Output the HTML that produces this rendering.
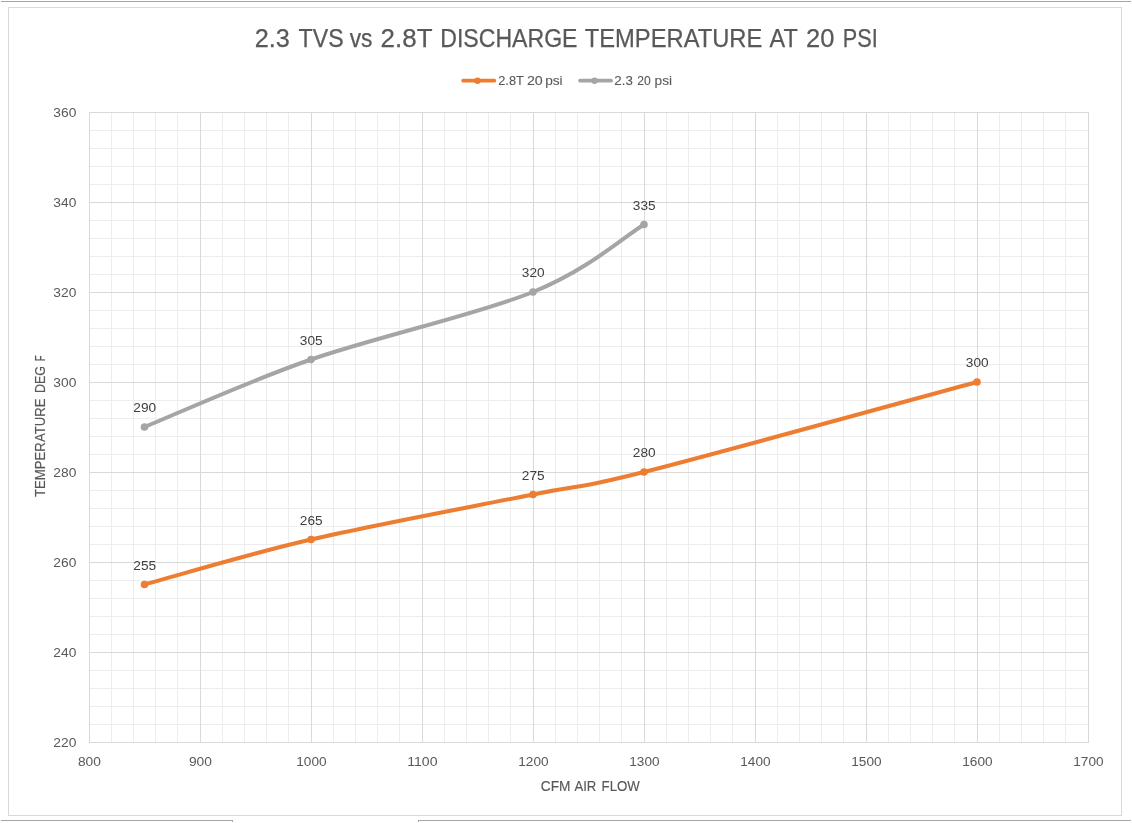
<!DOCTYPE html>
<html><head><meta charset="utf-8">
<style>
html,body{margin:0;padding:0;background:#fff;}
body{width:1132px;height:823px;overflow:hidden;position:relative;}
svg{position:absolute;left:0;top:0;will-change:transform;}
text{font-family:"Liberation Sans",sans-serif;}
.mn{stroke:#ededed;stroke-width:1;}
.mj{stroke:#d9d9d9;stroke-width:1;}
.tk{font-size:12.5px;fill:#595959;}
.dl{font-size:12.5px;fill:#404040;}
</style></head><body>
<svg width="1132" height="823" viewBox="0 0 1132 823">
<rect x="0" y="0" width="1132" height="823" fill="#fff"/>
<line x1="1" y1="1.5" x2="1131" y2="1.5" stroke="#a6a6a6" stroke-width="1"/>
<rect x="8.5" y="7.5" width="1113" height="808" fill="none" stroke="#d9d9d9" stroke-width="1"/>
<line x1="1" y1="820.5" x2="233" y2="820.5" stroke="#a6a6a6" stroke-width="1"/>
<line x1="418" y1="820.5" x2="1131" y2="820.5" stroke="#a6a6a6" stroke-width="1"/>
<rect x="232" y="820" width="1" height="2" fill="#a6a6a6"/>
<rect x="418" y="820" width="1" height="2" fill="#a6a6a6"/>
<line x1="89.0" y1="724.5" x2="1088.0" y2="724.5" class="mn"/><line x1="89.0" y1="706.5" x2="1088.0" y2="706.5" class="mn"/><line x1="89.0" y1="688.5" x2="1088.0" y2="688.5" class="mn"/><line x1="89.0" y1="670.5" x2="1088.0" y2="670.5" class="mn"/><line x1="89.0" y1="634.5" x2="1088.0" y2="634.5" class="mn"/><line x1="89.0" y1="616.5" x2="1088.0" y2="616.5" class="mn"/><line x1="89.0" y1="598.5" x2="1088.0" y2="598.5" class="mn"/><line x1="89.0" y1="580.5" x2="1088.0" y2="580.5" class="mn"/><line x1="89.0" y1="544.5" x2="1088.0" y2="544.5" class="mn"/><line x1="89.0" y1="526.5" x2="1088.0" y2="526.5" class="mn"/><line x1="89.0" y1="508.5" x2="1088.0" y2="508.5" class="mn"/><line x1="89.0" y1="490.5" x2="1088.0" y2="490.5" class="mn"/><line x1="89.0" y1="454.5" x2="1088.0" y2="454.5" class="mn"/><line x1="89.0" y1="436.5" x2="1088.0" y2="436.5" class="mn"/><line x1="89.0" y1="418.5" x2="1088.0" y2="418.5" class="mn"/><line x1="89.0" y1="400.5" x2="1088.0" y2="400.5" class="mn"/><line x1="89.0" y1="364.5" x2="1088.0" y2="364.5" class="mn"/><line x1="89.0" y1="346.5" x2="1088.0" y2="346.5" class="mn"/><line x1="89.0" y1="328.5" x2="1088.0" y2="328.5" class="mn"/><line x1="89.0" y1="310.5" x2="1088.0" y2="310.5" class="mn"/><line x1="89.0" y1="274.5" x2="1088.0" y2="274.5" class="mn"/><line x1="89.0" y1="256.5" x2="1088.0" y2="256.5" class="mn"/><line x1="89.0" y1="238.5" x2="1088.0" y2="238.5" class="mn"/><line x1="89.0" y1="220.5" x2="1088.0" y2="220.5" class="mn"/><line x1="89.0" y1="184.5" x2="1088.0" y2="184.5" class="mn"/><line x1="89.0" y1="166.5" x2="1088.0" y2="166.5" class="mn"/><line x1="89.0" y1="148.5" x2="1088.0" y2="148.5" class="mn"/><line x1="89.0" y1="130.5" x2="1088.0" y2="130.5" class="mn"/><line x1="111.5" y1="112.0" x2="111.5" y2="742.0" class="mn"/><line x1="133.5" y1="112.0" x2="133.5" y2="742.0" class="mn"/><line x1="155.5" y1="112.0" x2="155.5" y2="742.0" class="mn"/><line x1="177.5" y1="112.0" x2="177.5" y2="742.0" class="mn"/><line x1="222.5" y1="112.0" x2="222.5" y2="742.0" class="mn"/><line x1="244.5" y1="112.0" x2="244.5" y2="742.0" class="mn"/><line x1="266.5" y1="112.0" x2="266.5" y2="742.0" class="mn"/><line x1="288.5" y1="112.0" x2="288.5" y2="742.0" class="mn"/><line x1="333.5" y1="112.0" x2="333.5" y2="742.0" class="mn"/><line x1="355.5" y1="112.0" x2="355.5" y2="742.0" class="mn"/><line x1="377.5" y1="112.0" x2="377.5" y2="742.0" class="mn"/><line x1="399.5" y1="112.0" x2="399.5" y2="742.0" class="mn"/><line x1="444.5" y1="112.0" x2="444.5" y2="742.0" class="mn"/><line x1="466.5" y1="112.0" x2="466.5" y2="742.0" class="mn"/><line x1="488.5" y1="112.0" x2="488.5" y2="742.0" class="mn"/><line x1="510.5" y1="112.0" x2="510.5" y2="742.0" class="mn"/><line x1="555.5" y1="112.0" x2="555.5" y2="742.0" class="mn"/><line x1="577.5" y1="112.0" x2="577.5" y2="742.0" class="mn"/><line x1="599.5" y1="112.0" x2="599.5" y2="742.0" class="mn"/><line x1="621.5" y1="112.0" x2="621.5" y2="742.0" class="mn"/><line x1="666.5" y1="112.0" x2="666.5" y2="742.0" class="mn"/><line x1="688.5" y1="112.0" x2="688.5" y2="742.0" class="mn"/><line x1="710.5" y1="112.0" x2="710.5" y2="742.0" class="mn"/><line x1="732.5" y1="112.0" x2="732.5" y2="742.0" class="mn"/><line x1="777.5" y1="112.0" x2="777.5" y2="742.0" class="mn"/><line x1="799.5" y1="112.0" x2="799.5" y2="742.0" class="mn"/><line x1="821.5" y1="112.0" x2="821.5" y2="742.0" class="mn"/><line x1="843.5" y1="112.0" x2="843.5" y2="742.0" class="mn"/><line x1="888.5" y1="112.0" x2="888.5" y2="742.0" class="mn"/><line x1="910.5" y1="112.0" x2="910.5" y2="742.0" class="mn"/><line x1="932.5" y1="112.0" x2="932.5" y2="742.0" class="mn"/><line x1="954.5" y1="112.0" x2="954.5" y2="742.0" class="mn"/><line x1="999.5" y1="112.0" x2="999.5" y2="742.0" class="mn"/><line x1="1021.5" y1="112.0" x2="1021.5" y2="742.0" class="mn"/><line x1="1043.5" y1="112.0" x2="1043.5" y2="742.0" class="mn"/><line x1="1065.5" y1="112.0" x2="1065.5" y2="742.0" class="mn"/><line x1="89.0" y1="742.5" x2="1089.0" y2="742.5" class="mj"/><line x1="89.0" y1="652.5" x2="1089.0" y2="652.5" class="mj"/><line x1="89.0" y1="562.5" x2="1089.0" y2="562.5" class="mj"/><line x1="89.0" y1="472.5" x2="1089.0" y2="472.5" class="mj"/><line x1="89.0" y1="382.5" x2="1089.0" y2="382.5" class="mj"/><line x1="89.0" y1="292.5" x2="1089.0" y2="292.5" class="mj"/><line x1="89.0" y1="202.5" x2="1089.0" y2="202.5" class="mj"/><line x1="89.0" y1="112.5" x2="1089.0" y2="112.5" class="mj"/><line x1="89.5" y1="112.0" x2="89.5" y2="743.0" class="mj"/><line x1="200.5" y1="112.0" x2="200.5" y2="743.0" class="mj"/><line x1="311.5" y1="112.0" x2="311.5" y2="743.0" class="mj"/><line x1="422.5" y1="112.0" x2="422.5" y2="743.0" class="mj"/><line x1="533.5" y1="112.0" x2="533.5" y2="743.0" class="mj"/><line x1="644.5" y1="112.0" x2="644.5" y2="743.0" class="mj"/><line x1="755.5" y1="112.0" x2="755.5" y2="743.0" class="mj"/><line x1="866.5" y1="112.0" x2="866.5" y2="743.0" class="mj"/><line x1="977.5" y1="112.0" x2="977.5" y2="743.0" class="mj"/><line x1="1088.5" y1="112.0" x2="1088.5" y2="743.0" class="mj"/>
<text x="254.80" y="46.50" style="font-size:25px;fill:#595959;stroke:#595959;stroke-width:0.25" textLength="35.10" lengthAdjust="spacingAndGlyphs">2.3</text><text x="298.61" y="46.50" style="font-size:25px;fill:#595959;stroke:#595959;stroke-width:0.25" textLength="44.98" lengthAdjust="spacingAndGlyphs">TVS</text><text x="349.78" y="46.50" style="font-size:25px;fill:#595959;stroke:#595959;stroke-width:0.25" textLength="22.71" lengthAdjust="spacingAndGlyphs">vs</text><text x="380.60" y="46.50" style="font-size:25px;fill:#595959;stroke:#595959;stroke-width:0.25" textLength="51.91" lengthAdjust="spacingAndGlyphs">2.8T</text><text x="440.22" y="46.50" style="font-size:25px;fill:#595959;stroke:#595959;stroke-width:0.25" textLength="137.30" lengthAdjust="spacingAndGlyphs">DISCHARGE</text><text x="584.78" y="46.50" style="font-size:25px;fill:#595959;stroke:#595959;stroke-width:0.25" textLength="177.58" lengthAdjust="spacingAndGlyphs">TEMPERATURE</text><text x="769.58" y="46.50" style="font-size:25px;fill:#595959;stroke:#595959;stroke-width:0.25" textLength="28.20" lengthAdjust="spacingAndGlyphs">AT</text><text x="806.00" y="46.50" style="font-size:25px;fill:#595959;stroke:#595959;stroke-width:0.25" textLength="28.35" lengthAdjust="spacingAndGlyphs">20</text><text x="842.77" y="46.50" style="font-size:25px;fill:#595959;stroke:#595959;stroke-width:0.25" textLength="34.92" lengthAdjust="spacingAndGlyphs">PSI</text>
<line x1="463.2" y1="80.7" x2="494.3" y2="80.7" stroke="#ed7d31" stroke-width="3.8" stroke-linecap="round"/>
<circle cx="477.5" cy="80.7" r="3.2" fill="#ed7d31"/>
<text x="498.21" y="85.00" style="font-size:12.5px;fill:#595959;stroke:#595959;stroke-width:0.1" textLength="25.67" lengthAdjust="spacingAndGlyphs">2.8T</text><text x="526.95" y="85.00" style="font-size:12.5px;fill:#595959;stroke:#595959;stroke-width:0.1" textLength="15.81" lengthAdjust="spacingAndGlyphs">20</text><text x="545.15" y="85.00" style="font-size:12.5px;fill:#595959;stroke:#595959;stroke-width:0.1" textLength="17.51" lengthAdjust="spacingAndGlyphs">psi</text>
<line x1="580.1" y1="80.7" x2="611" y2="80.7" stroke="#a5a5a5" stroke-width="3.8" stroke-linecap="round"/>
<circle cx="594.5" cy="80.7" r="3.2" fill="#a5a5a5"/>
<text x="614.38" y="85.00" style="font-size:12.5px;fill:#595959;stroke:#595959;stroke-width:0.1" textLength="18.55" lengthAdjust="spacingAndGlyphs">2.3</text><text x="637.18" y="85.00" style="font-size:12.5px;fill:#595959;stroke:#595959;stroke-width:0.1" textLength="13.50" lengthAdjust="spacingAndGlyphs">20</text><text x="654.58" y="85.00" style="font-size:12.5px;fill:#595959;stroke:#595959;stroke-width:0.1" textLength="17.44" lengthAdjust="spacingAndGlyphs">psi</text>
<text x="76.3" y="746.6" class="tk" text-anchor="end" textLength="23" lengthAdjust="spacingAndGlyphs">220</text><text x="76.3" y="656.6" class="tk" text-anchor="end" textLength="23" lengthAdjust="spacingAndGlyphs">240</text><text x="76.3" y="566.6" class="tk" text-anchor="end" textLength="23" lengthAdjust="spacingAndGlyphs">260</text><text x="76.3" y="476.6" class="tk" text-anchor="end" textLength="23" lengthAdjust="spacingAndGlyphs">280</text><text x="76.3" y="386.6" class="tk" text-anchor="end" textLength="23" lengthAdjust="spacingAndGlyphs">300</text><text x="76.3" y="296.6" class="tk" text-anchor="end" textLength="23" lengthAdjust="spacingAndGlyphs">320</text><text x="76.3" y="206.6" class="tk" text-anchor="end" textLength="23" lengthAdjust="spacingAndGlyphs">340</text><text x="76.3" y="116.6" class="tk" text-anchor="end" textLength="23" lengthAdjust="spacingAndGlyphs">360</text><text x="89.4" y="766" class="tk" text-anchor="middle" textLength="23" lengthAdjust="spacingAndGlyphs">800</text><text x="200.4" y="766" class="tk" text-anchor="middle" textLength="23" lengthAdjust="spacingAndGlyphs">900</text><text x="311.4" y="766" class="tk" text-anchor="middle" textLength="30.3" lengthAdjust="spacingAndGlyphs">1000</text><text x="422.4" y="766" class="tk" text-anchor="middle" textLength="30.3" lengthAdjust="spacingAndGlyphs">1100</text><text x="533.4" y="766" class="tk" text-anchor="middle" textLength="30.3" lengthAdjust="spacingAndGlyphs">1200</text><text x="644.4" y="766" class="tk" text-anchor="middle" textLength="30.3" lengthAdjust="spacingAndGlyphs">1300</text><text x="755.4" y="766" class="tk" text-anchor="middle" textLength="30.3" lengthAdjust="spacingAndGlyphs">1400</text><text x="866.4" y="766" class="tk" text-anchor="middle" textLength="30.3" lengthAdjust="spacingAndGlyphs">1500</text><text x="977.4" y="766" class="tk" text-anchor="middle" textLength="30.3" lengthAdjust="spacingAndGlyphs">1600</text><text x="1088.4" y="766" class="tk" text-anchor="middle" textLength="30.3" lengthAdjust="spacingAndGlyphs">1700</text>
<text x="540.79" y="791.00" style="font-size:14px;fill:#595959;stroke:#595959;stroke-width:0.15" textLength="29.67" lengthAdjust="spacingAndGlyphs">CFM</text><text x="574.40" y="791.00" style="font-size:14px;fill:#595959;stroke:#595959;stroke-width:0.15" textLength="21.91" lengthAdjust="spacingAndGlyphs">AIR</text><text x="601.62" y="791.00" style="font-size:14px;fill:#595959;stroke:#595959;stroke-width:0.15" textLength="38.27" lengthAdjust="spacingAndGlyphs">FLOW</text>
<g transform="translate(45,500) rotate(-90)"><text x="3.02" y="0" style="font-size:14px;fill:#595959;stroke:#595959;stroke-width:0.15" textLength="98.51" lengthAdjust="spacingAndGlyphs">TEMPERATURE</text><text x="106.97" y="0" style="font-size:14px;fill:#595959;stroke:#595959;stroke-width:0.15" textLength="27.15" lengthAdjust="spacingAndGlyphs">DEG</text><text x="138.72" y="0" style="font-size:14px;fill:#595959;stroke:#595959;stroke-width:0.15" textLength="5.79" lengthAdjust="spacingAndGlyphs">F</text></g>
<path d="M144.50,584.50 C172.25,577.00 246.25,554.50 311.00,539.50 C375.75,524.50 477.50,505.75 533.00,494.50 C588.50,483.25 570.00,490.75 644.00,472.00 C718.00,453.25 921.50,397.00 977.00,382.00" fill="none" stroke="#ed7d31" stroke-width="4" stroke-linecap="round" stroke-linejoin="round"/>
<path d="M144.50,427.00 C172.25,415.75 246.25,382.00 311.00,359.50 C375.75,337.00 477.50,314.50 533.00,292.00 C588.50,269.50 625.50,235.75 644.00,224.50" fill="none" stroke="#a5a5a5" stroke-width="4" stroke-linecap="round" stroke-linejoin="round"/>
<circle cx="144.50" cy="584.50" r="3.8" fill="#ed7d31"/><circle cx="311.00" cy="539.50" r="3.8" fill="#ed7d31"/><circle cx="533.00" cy="494.50" r="3.8" fill="#ed7d31"/><circle cx="644.00" cy="472.00" r="3.8" fill="#ed7d31"/><circle cx="977.00" cy="382.00" r="3.8" fill="#ed7d31"/><circle cx="144.50" cy="427.00" r="3.8" fill="#a5a5a5"/><circle cx="311.00" cy="359.50" r="3.8" fill="#a5a5a5"/><circle cx="533.00" cy="292.00" r="3.8" fill="#a5a5a5"/><circle cx="644.00" cy="224.50" r="3.8" fill="#a5a5a5"/>
<text x="144.7" y="569.9" class="dl" text-anchor="middle" textLength="22.8" lengthAdjust="spacingAndGlyphs">255</text><text x="311.2" y="524.9" class="dl" text-anchor="middle" textLength="22.8" lengthAdjust="spacingAndGlyphs">265</text><text x="533.2" y="479.9" class="dl" text-anchor="middle" textLength="22.8" lengthAdjust="spacingAndGlyphs">275</text><text x="644.2" y="457.4" class="dl" text-anchor="middle" textLength="22.8" lengthAdjust="spacingAndGlyphs">280</text><text x="977.2" y="367.4" class="dl" text-anchor="middle" textLength="22.8" lengthAdjust="spacingAndGlyphs">300</text><text x="144.7" y="412.4" class="dl" text-anchor="middle" textLength="22.8" lengthAdjust="spacingAndGlyphs">290</text><text x="311.2" y="344.9" class="dl" text-anchor="middle" textLength="22.8" lengthAdjust="spacingAndGlyphs">305</text><text x="533.2" y="277.4" class="dl" text-anchor="middle" textLength="22.8" lengthAdjust="spacingAndGlyphs">320</text><text x="644.2" y="209.9" class="dl" text-anchor="middle" textLength="22.8" lengthAdjust="spacingAndGlyphs">335</text>
</svg>
</body></html>
